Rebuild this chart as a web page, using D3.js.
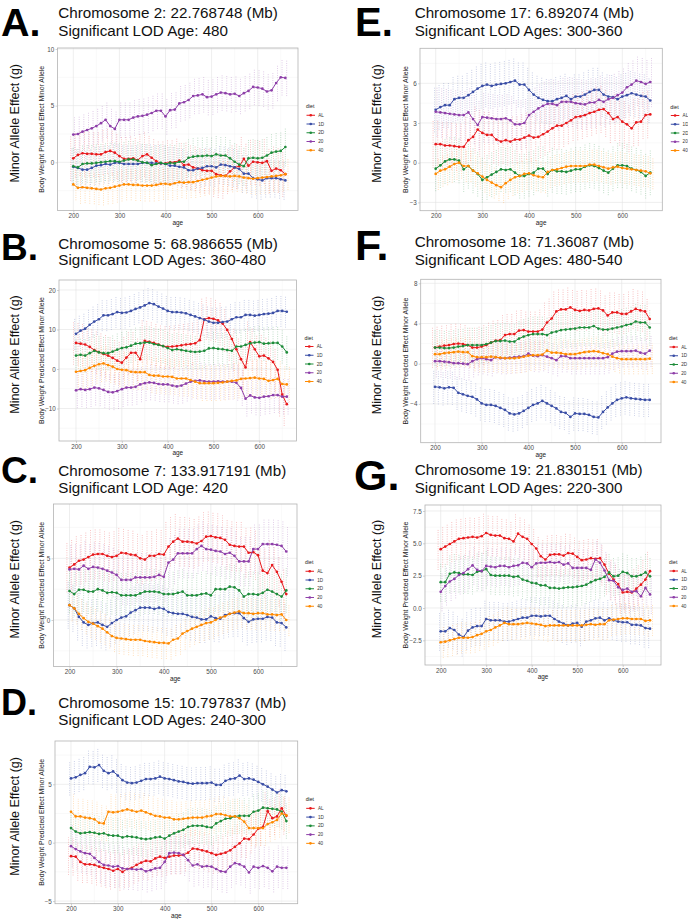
<!DOCTYPE html>
<html><head><meta charset="utf-8">
<script src="https://cdn.jsdelivr.net/npm/d3@7"></script>
<style>body{margin:0;background:#fff}svg{display:block}</style>
</head><body><svg id="c" width="688" height="919"></svg>
<script>
// ---------------- DATA ----------------
const ages = [200,210,220,230,240,250,260,270,280,290,300,310,320,330,340,350,360,370,380,390,400,410,420,430,440,450,460,470,480,490,500,510,520,530,540,550,560,570,580,590,600,610,620,630,640,650,660];
const diets = ["AL","1D","2D","20","40"];
const xTicks = [200,300,400,500,600];

const panelLetters = ["A.","B.","C.","D.","E.","F.","G."];
const titleLine1 = ["Chromosome 2: 22.768748 (Mb)","Chromosome 5: 68.986655 (Mb)","Chromosome 7: 133.917191 (Mb)","Chromosome 15: 10.797837 (Mb)","Chromosome 17: 6.892074 (Mb)","Chromosome 18: 71.36087 (Mb)","Chromosome 19: 21.830151 (Mb)"];
const titleLine2 = ["Significant LOD Age: 480","Significant LOD Ages: 360-480","Significant LOD Age: 420","Significant LOD Ages: 240-300","Significant LOD Ages: 300-360","Significant LOD Ages: 480-540","Significant LOD Ages: 220-300"];

const yTicksA = [0,5,10];
const yTicksB = [-10,0,10,20];
const yTicksC = [0,5];
const yTicksD = [-5,0,5];
const yTicksE = [-3,0,3,6];
const yTicksF = [-4,0,4,8];
const yTicksG = [-2.5,0,2.5,5,7.5];

// Panel A  (chr 2)
const A_AL = [0.35,0.65,0.8,0.75,0.75,0.7,0.7,0.9,1.0,0.85,0.55,0.3,0.3,0.35,0.2,0.55,0.7,0.4,0.1,-0.1,-0.1,0.0,0.0,0.15,-0.25,-0.2,-0.45,-0.55,-0.7,-0.75,-0.75,-1.05,-1.15,-1.2,-0.8,-0.45,-0.35,0.3,-0.3,0.05,0.0,-0.05,0.1,-0.75,-0.55,-0.7,-1.05];
const A_1D = [-0.4,-0.5,-0.65,-0.65,-0.5,-0.3,-0.25,-0.15,-0.2,-0.05,-0.05,-0.15,-0.15,-0.15,-0.15,-0.05,-0.05,-0.05,-0.1,-0.1,-0.15,-0.3,-0.3,-0.4,-0.45,-0.7,-0.7,-0.55,-0.5,-0.35,-0.35,-0.45,-0.2,-0.25,-0.35,-0.45,-0.6,-1.0,-1.0,-1.4,-1.5,-1.6,-1.4,-1.4,-1.4,-1.5,-1.6];
const A_2D = [-0.35,-0.45,-0.15,-0.1,-0.1,-0.05,0.0,0.05,0.1,0.1,0.05,0.15,0.25,0.25,0.15,0.0,-0.05,-0.25,-0.15,-0.05,-0.15,-0.05,-0.1,0.05,0.05,0.4,0.5,0.55,0.55,0.6,0.55,0.7,0.6,0.6,0.35,0.05,-0.2,-0.35,0.35,0.4,0.35,0.4,0.6,0.85,0.95,1.0,1.35];
const A_20 = [2.45,2.5,2.7,2.85,3.0,3.2,3.45,3.75,3.2,2.95,3.75,3.75,3.75,3.95,4.05,4.1,4.2,4.35,4.55,4.55,4.05,4.6,4.65,5.2,5.3,5.5,5.85,5.9,6.0,5.75,5.8,6.0,6.15,6.1,6.0,6.05,5.85,6.1,6.3,6.65,6.6,6.5,6.25,6.35,7.0,7.5,7.45];
const A_40 = [-1.95,-2.25,-2.2,-2.25,-2.3,-2.35,-2.4,-2.3,-2.25,-2.15,-2.05,-1.95,-1.95,-2.0,-2.0,-2.05,-2.05,-2.05,-2.0,-1.9,-1.9,-1.95,-1.85,-1.75,-1.8,-1.75,-1.75,-1.65,-1.55,-1.45,-1.35,-1.25,-1.2,-1.2,-1.25,-1.2,-1.25,-1.35,-1.4,-1.45,-1.4,-1.35,-1.3,-1.25,-1.2,-1.15,-1.05];
const A_ci = [2.0,1.7,1.7,1.6,1.4];

// Panel B  (chr 5)
const B_AL = [6.6,6.4,6.2,5.6,4.8,4.3,3.8,3.4,2.8,2.1,1.6,2.9,4.1,4.1,2.5,7.1,6.9,6.6,6.2,5.8,5.6,5.7,5.8,6.0,6.2,6.3,6.5,7.3,12.6,12.9,12.7,12.3,11.5,9.9,7.6,5.0,2.5,0.4,6.8,5.0,3.2,3.4,2.7,1.8,-0.2,-6.5,-8.9];
const B_1D = [8.9,9.7,10.2,11.2,12.0,12.6,13.6,13.6,13.9,14.4,14.2,14.3,14.7,15.2,15.6,16.1,16.7,16.4,15.8,15.3,14.7,14.4,14.4,14.3,14.1,13.7,13.3,12.9,12.5,12.0,11.7,11.7,11.9,12.0,12.6,13.1,13.1,13.7,13.7,13.5,13.7,13.9,14.0,14.2,14.7,14.7,14.5];
const B_2D = [3.4,3.6,3.4,4.0,4.6,4.2,4.0,4.0,4.4,4.9,5.3,5.5,5.9,6.4,6.5,6.7,6.7,6.3,6.1,5.8,5.3,4.8,5.0,4.8,4.6,4.4,4.3,4.4,4.6,5.2,5.3,5.1,5.0,4.8,4.6,5.7,5.7,6.1,6.5,6.7,6.8,6.4,6.5,6.6,6.6,5.7,4.2];
const B_20 = [-5.4,-5.1,-5.3,-5.1,-4.7,-4.9,-5.3,-5.8,-5.9,-5.6,-5.1,-4.7,-4.7,-4.5,-3.9,-3.6,-3.4,-3.5,-3.8,-3.9,-3.9,-4.2,-4.4,-4.2,-3.7,-3.2,-3.0,-2.9,-3.1,-3.2,-3.2,-3.1,-3.2,-3.2,-3.2,-3.5,-4.8,-7.5,-6.7,-7.2,-7.3,-7.0,-6.9,-6.6,-6.6,-7.0,-7.0];
const B_40 = [-0.7,-0.5,-0.3,0.3,0.8,1.2,1.4,1.0,0.6,0.0,-0.2,-0.3,-0.7,-0.8,-0.8,-0.8,-1.5,-1.7,-1.7,-1.9,-1.9,-2.0,-2.4,-2.4,-2.4,-2.8,-3.2,-3.6,-3.6,-3.6,-3.6,-3.5,-3.4,-3.2,-3.0,-2.9,-2.5,-2.4,-2.3,-2.2,-2.4,-2.5,-3.0,-2.8,-2.5,-3.8,-3.9];
const B_ci = [5.5,4.0,4.3,4.5,4.5];

// Panel C  (chr 7)
const C_AL = [4.24,4.5,4.8,4.9,5.1,5.3,5.35,5.35,5.2,5.1,5.2,5.45,5.4,5.3,5.25,5.0,4.9,5.2,5.2,5.35,5.3,5.95,6.35,6.6,6.35,6.35,6.3,6.2,6.4,6.75,6.8,6.7,6.65,6.5,6.1,6.0,5.95,5.95,5.45,5.5,5.25,4.0,3.8,4.45,3.9,3.1,2.1];
const C_1D = [1.2,0.95,0.25,-0.2,-0.4,-0.25,-0.2,-0.4,-0.55,-0.25,0.0,0.2,0.3,0.6,0.8,1.0,1.0,1.0,0.9,1.0,0.9,0.65,0.55,0.5,0.5,0.4,0.25,0.2,0.05,0.05,0.3,0.15,0.1,0.4,0.5,0.55,0.55,0.15,-0.15,0.05,0.1,0.1,0.25,0.2,-0.2,-0.25,-0.6];
const C_2D = [2.35,2.1,2.45,2.45,2.3,2.3,2.5,2.4,2.2,2.25,2.2,2.0,2.0,2.0,2.0,2.15,2.3,2.3,2.3,2.25,2.1,2.1,2.1,2.2,2.3,2.0,2.0,2.0,2.1,2.15,2.0,2.5,2.5,2.5,2.7,2.65,2.4,1.9,2.1,2.1,2.05,2.2,2.45,2.3,2.1,1.9,2.4];
const C_20 = [4.1,4.15,4.1,4.4,4.15,4.3,4.25,4.15,4.0,3.85,3.65,3.25,3.25,3.25,3.45,3.45,3.45,3.45,3.5,3.65,3.5,4.65,4.9,5.4,5.4,5.4,5.4,5.75,6.0,5.75,5.7,5.6,5.55,5.35,5.45,5.2,4.75,4.75,4.75,5.75,5.75,6.15,6.15,6.15,6.1,6.0,5.55];
const C_40 = [1.2,0.95,0.5,0.15,-0.15,-0.3,-0.5,-0.7,-1.0,-1.3,-1.45,-1.5,-1.55,-1.6,-1.6,-1.6,-1.7,-1.75,-1.8,-1.85,-1.85,-1.9,-1.6,-1.5,-1.1,-0.9,-0.7,-0.55,-0.4,-0.25,-0.2,0.0,0.2,0.3,0.5,0.6,0.7,0.55,0.55,0.5,0.55,0.55,0.45,0.45,0.4,0.45,0.0];
const C_ci = [2.0,1.9,1.8,2.0,1.3];

// Panel D  (chr 15)
const D_AL = [-1.15,-1.2,-1.65,-1.85,-1.85,-1.9,-2.05,-2.15,-2.25,-2.4,-2.25,-2.5,-2.25,-2.15,-1.9,-1.7,-1.55,-1.6,-1.35,-1.2,-1.3,-1.2,-1.1,-1.1,-1.05,-0.85,-0.5,-0.55,-0.65,-0.75,-0.9,-1.05,-0.95,-0.85,-0.65,-0.35,-0.05,0.35,0.3,0.7,1.2,1.35,2.7,2.1,2.25,2.95,2.3];
const D_1D = [5.5,5.6,5.8,5.95,6.5,6.45,6.65,6.15,5.95,6.1,5.75,5.35,5.15,5.1,5.15,5.3,5.45,5.45,5.5,5.65,5.5,5.45,5.35,5.25,5.2,5.1,5.05,5.1,5.1,5.1,5.15,4.95,4.95,5.3,5.45,5.5,5.75,5.45,5.5,5.4,5.2,5.0,4.8,4.55,4.3,4.5,4.4];
const D_2D = [1.25,0.95,0.8,0.85,0.9,0.85,0.75,0.8,0.65,0.6,0.6,0.45,0.55,0.5,0.45,0.35,0.3,0.35,0.45,0.5,0.35,0.6,0.8,0.95,1.1,1.35,1.45,1.45,1.45,1.35,1.3,1.65,1.85,2.05,2.1,2.25,2.3,2.3,2.3,2.65,2.75,3.0,2.95,2.9,2.85,2.65,1.85];
const D_20 = [-0.3,-0.55,-0.75,-0.9,-0.95,-1.3,-1.65,-1.9,-1.95,-2.05,-2.0,-2.2,-2.25,-2.25,-2.3,-2.25,-2.45,-2.35,-2.2,-2.15,-1.65,-0.9,-0.85,-0.9,-1.05,-1.5,-1.95,-1.85,-2.05,-2.0,-2.05,-2.25,-2.45,-2.5,-2.05,-1.75,-1.85,-2.05,-2.55,-2.05,-2.15,-2.0,-2.15,-2.45,-2.05,-2.15,-2.15];
const D_40 = [2.65,2.25,2.25,2.15,2.1,2.0,1.7,1.65,2.65,2.6,2.65,2.75,2.85,2.75,2.65,2.75,2.6,2.45,2.3,2.25,2.15,2.15,2.0,2.0,2.05,2.1,2.15,2.15,2.15,2.25,2.3,2.45,2.45,2.35,2.25,2.25,2.1,1.8,1.25,1.25,1.25,1.25,1.6,1.75,1.95,2.5,2.35];
const D_ci = [1.6,1.45,1.5,1.8,1.5];

// Panel E  (chr 17)
const E_AL = [1.4,1.4,1.3,1.3,1.25,1.2,1.2,1.7,1.95,2.5,2.25,2.1,2.1,1.75,1.6,1.7,1.6,1.75,1.75,1.9,2.05,1.9,1.95,2.15,2.35,2.6,2.8,2.8,3.0,3.2,3.45,3.5,3.6,3.75,3.85,4.0,4.05,3.75,3.3,3.45,3.1,2.9,2.6,3.05,3.1,3.6,3.65];
const E_1D = [4.0,4.2,4.35,4.35,4.8,4.9,4.9,5.1,5.35,5.6,5.8,5.9,5.8,5.9,5.95,6.0,6.1,6.2,5.9,5.9,5.5,5.15,4.9,4.75,4.65,4.65,4.8,4.9,5.05,4.8,5.0,5.0,5.15,5.35,5.5,5.5,5.15,5.0,4.95,4.8,5.0,5.1,5.25,5.15,5.05,5.0,4.7];
const E_2D = [-0.45,-0.2,0.1,0.25,0.25,0.15,-0.5,-0.25,-0.6,-0.85,-1.3,-1.1,-0.9,-0.7,-0.5,-0.55,-0.5,-0.75,-1.0,-1.0,-0.85,-0.75,-0.45,-0.45,-0.85,-0.55,-0.65,-0.65,-0.7,-0.6,-0.5,-0.5,-0.3,-0.2,-0.25,-0.4,-0.6,-0.75,-0.45,-0.2,-0.2,-0.25,-0.45,-0.55,-0.7,-1.0,-0.75];
const E_20 = [3.85,3.8,3.75,3.7,3.65,3.6,3.6,3.8,3.3,2.85,3.45,3.4,3.35,3.3,3.3,3.35,3.2,2.9,2.9,3.0,3.6,3.85,4.1,4.3,4.45,4.45,4.35,4.6,4.6,4.6,4.5,4.45,4.4,4.55,4.55,4.75,4.6,4.8,4.9,5.1,5.3,5.7,5.9,6.2,6.1,5.95,6.1];
const E_40 = [-0.85,-0.6,-0.5,-0.3,-0.1,0.0,-0.25,-0.25,-0.6,-0.8,-1.05,-1.3,-1.5,-1.7,-1.85,-1.55,-1.3,-1.1,-1.0,-0.85,-0.8,-0.95,-1.05,-1.1,-0.7,-0.55,-0.5,-0.4,-0.3,-0.25,-0.25,-0.25,-0.25,-0.15,-0.15,-0.25,-0.35,-0.45,-0.35,-0.3,-0.4,-0.45,-0.5,-0.55,-0.6,-0.65,-0.8];
const E_ci = [1.8,1.7,1.7,1.9,1.2];

// Panel F  (chr 18)
const F_AL = [1.6,1.7,1.8,1.85,1.95,2.0,1.95,1.85,1.6,1.6,1.7,1.85,2.1,2.3,2.35,2.85,2.95,2.95,3.3,3.35,3.2,3.2,3.2,3.4,4.1,4.5,5.2,5.4,5.4,5.6,5.35,5.25,5.35,5.3,5.45,5.5,5.3,4.8,5.1,5.1,4.95,4.95,5.2,5.45,5.3,5.2,4.45];
const F_1D = [-2.3,-2.35,-2.45,-2.35,-2.4,-2.9,-3.05,-3.2,-3.3,-3.55,-3.95,-4.1,-4.1,-4.2,-4.4,-4.6,-4.95,-5.05,-4.95,-4.7,-4.4,-4.1,-3.95,-3.7,-3.95,-4.2,-4.45,-4.8,-4.9,-5.3,-4.95,-5.0,-5.0,-5.1,-5.3,-5.35,-4.8,-4.35,-3.95,-3.6,-3.45,-3.35,-3.45,-3.5,-3.55,-3.6,-3.6];
const F_2D = [1.6,1.6,1.55,1.55,1.6,1.7,1.75,1.85,1.85,1.85,1.85,1.95,2.1,2.25,2.25,2.3,2.2,2.2,2.5,2.7,2.85,2.95,2.95,2.95,2.85,3.1,3.2,3.35,3.4,3.45,3.5,3.6,3.6,3.6,3.75,3.5,3.4,3.4,3.5,3.6,3.7,3.85,3.95,4.2,4.1,4.1,3.6];
const F_20 = [0.25,0.25,0.2,0.15,0.05,0.05,0.0,-0.05,0.25,0.45,0.55,0.45,0.35,0.65,0.55,0.55,0.6,0.65,0.7,0.75,1.0,0.8,0.75,0.85,0.7,0.55,0.35,0.75,0.75,0.55,0.55,0.55,0.55,0.55,0.55,0.55,0.55,0.65,1.0,1.2,1.25,1.25,1.25,1.3,1.1,1.0,1.3];
const F_40 = [0.95,0.95,1.05,1.1,1.15,1.2,1.15,1.15,0.75,0.65,0.65,0.65,0.7,0.65,0.6,0.55,0.55,0.55,0.6,0.7,0.8,0.85,0.85,0.9,1.3,1.1,1.1,1.05,0.95,0.95,0.95,1.05,1.15,1.2,1.25,1.2,1.05,0.95,0.7,0.55,0.45,0.45,0.45,0.45,0.45,0.45,0.5];
const F_ci = [2.0,1.7,1.8,1.6,1.5];

// Panel G  (chr 19)
const G_AL = [4.55,4.75,4.95,5.15,5.35,5.4,5.45,5.5,5.45,5.55,5.8,5.65,5.6,5.6,5.4,5.35,5.15,5.75,5.5,5.35,4.95,4.6,4.0,3.75,4.1,4.15,4.15,4.05,4.25,4.2,3.95,3.7,3.75,3.85,3.8,3.85,3.35,2.65,2.2,1.85,1.2,1.25,1.2,1.5,1.8,2.2,2.85];
const G_1D = [-1.8,-1.8,-1.55,-1.7,-2.05,-2.25,-1.75,-1.5,-1.4,-1.4,-0.85,-0.95,-0.95,-0.95,-1.05,-1.05,-0.95,-0.85,-0.75,-0.75,-0.6,-0.6,-0.65,-0.6,-0.6,-0.85,-1.05,-1.2,-1.35,-1.2,-1.15,-1.45,-1.05,-0.95,-0.8,-0.75,-0.95,-0.8,-0.95,-1.05,-1.1,-1.1,-1.3,-1.3,-1.35,-1.55,-1.6];
const G_2D = [2.0,2.0,2.65,2.75,2.7,2.6,2.6,2.55,2.8,2.85,3.0,2.55,2.5,2.5,2.5,2.5,2.4,2.45,2.2,2.1,1.95,1.9,1.75,1.75,1.55,1.55,1.5,1.55,1.6,1.6,1.65,1.7,1.8,2.0,2.15,2.25,2.4,2.75,2.45,2.5,2.8,2.7,2.45,2.45,2.55,2.75,2.45];
const G_20 = [1.25,1.7,2.05,2.25,2.55,2.7,3.0,3.3,2.95,2.85,3.25,3.2,3.15,3.25,3.25,3.15,3.25,3.3,3.5,3.45,3.15,3.45,3.5,3.5,3.55,3.5,3.55,3.35,3.45,3.1,3.1,3.1,3.1,2.95,3.75,3.5,2.9,2.15,2.1,1.6,1.4,1.5,1.25,1.3,0.9,1.55,1.05];
const G_40 = [-2.65,-2.6,-2.5,-2.4,-2.3,-2.3,-2.3,-2.25,-2.1,-2.0,-1.8,-1.7,-1.5,-1.35,-1.15,-1.25,-1.25,-1.25,-1.2,-1.15,-1.2,-1.25,-1.3,-1.4,-1.35,-1.35,-1.35,-1.35,-1.35,-1.35,-1.35,-1.35,-1.3,-1.25,-1.3,-1.25,-1.25,-0.95,-0.9,-0.85,-0.8,-0.8,-0.85,-0.85,-0.85,-1.0,-0.95];
const G_ci = [1.6,1.5,1.5,1.5,1.2];

// ---------------- STYLE / LAYOUT ----------------
const dietColors = ["#e8191c","#3a4ea6","#1e8c3a","#8e3fa9","#ff8a00"];
const FONT = "'Liberation Sans', Arial, Helvetica, sans-serif";

const panels = [
  {series:[A_AL,A_1D,A_2D,A_20,A_40], ci:A_ci, ticks:yTicksA, fmt:d3.format("d")},
  {series:[B_AL,B_1D,B_2D,B_20,B_40], ci:B_ci, ticks:yTicksB, fmt:d3.format("d")},
  {series:[C_AL,C_1D,C_2D,C_20,C_40], ci:C_ci, ticks:yTicksC, fmt:d3.format("d")},
  {series:[D_AL,D_1D,D_2D,D_20,D_40], ci:D_ci, ticks:yTicksD, fmt:d3.format("d")},
  {series:[E_AL,E_1D,E_2D,E_20,E_40], ci:E_ci, ticks:yTicksE, fmt:d3.format("d")},
  {series:[F_AL,F_1D,F_2D,F_20,F_40], ci:F_ci, ticks:yTicksF, fmt:d3.format("d")},
  {series:[G_AL,G_1D,G_2D,G_20,G_40], ci:G_ci, ticks:yTicksG, fmt:d3.format(".1f")}
];

// plot rectangles + pixel calibration of two x and two y reference values
const layout = [
  {l:57.5,t:48,r:298,b:210.5, x200:73.3,x600:257.7, yv:[0,10],yp:[162.3,49],   col:0, lx:1, ly:35.8, ls:39.5, t1:18.3, t2:36.3},
  {l:59,t:280,r:296.5,b:441,  x200:76,x600:259.3,   yv:[0,20],yp:[369,290],    col:0, lx:1, ly:260,  ls:37, t1:249, t2:265},
  {l:53.5,t:504,r:297,b:666.5,x200:69.5,x600:258,   yv:[0,5],yp:[620,558.3],   col:0, lx:1, ly:483,  ls:37, t1:476, t2:493.3},
  {l:55,t:741,r:297.7,b:903.7,x200:71,x600:258.3,   yv:[0,5],yp:[842.7,784.3], col:0, lx:1, ly:715,  ls:36, t1:708.3, t2:725},
  {l:420,t:48.3,r:662.3,b:210.7,x200:435.7,x600:622.3, yv:[0,6],yp:[162.7,83.3], col:1, lx:355, ly:36.3, ls:40, t1:18.3, t2:36},
  {l:420.7,t:279.3,r:661,b:442.7,x200:435,x600:621.7,  yv:[0,8],yp:[363.7,283.3], col:1, lx:355, ly:260, ls:43, t1:246.7, t2:265},
  {l:425,t:505,r:661,b:665,   x200:440.7,x600:622.7,  yv:[0,7.5],yp:[608,511],  col:1, lx:354, ly:489.5, ls:43, t1:475, t2:493.3}
];
const colX = [{title:58.3, minor:15.3, inner:41.5}, {title:414.7, minor:376.5, inner:405.3}];

const svg = d3.select("#c");
svg.append("rect").attr("width",688).attr("height",919).attr("fill","#fff");

panels.forEach((p, pi) => {
  const L = layout[pi];
  const C = colX[L.col];
  const xc = d3.scaleLinear().domain([200,600]).range([L.x200, L.x600]);
  const x = d3.scaleLinear().domain([xc.invert(L.l), xc.invert(L.r)]).range([L.l, L.r]);
  const yc = d3.scaleLinear().domain(L.yv).range(L.yp);
  const y = d3.scaleLinear().domain([yc.invert(L.b), yc.invert(L.t)]).range([L.b, L.t]);
  const g = svg.append("g");

  // letter + titles
  g.append("text").attr("x", L.lx).attr("y", L.ly).attr("font-family", FONT).attr("font-weight", 900)
    .attr("font-size", L.ls).attr("fill", "#000").text(panelLetters[pi]);
  g.append("text").attr("x", C.title).attr("y", L.t1).attr("font-family", FONT).attr("font-size", 15.2)
    .attr("fill", "#111").text(titleLine1[pi]);
  g.append("text").attr("x", C.title).attr("y", L.t2).attr("font-family", FONT).attr("font-size", 15.2)
    .attr("fill", "#111").text(titleLine2[pi]);

  // outer y label
  const cy = (L.t + L.b) / 2;
  g.append("text").attr("transform", `translate(${C.minor},${cy - 6}) rotate(-90)`)
    .attr("text-anchor","middle").attr("dominant-baseline","central")
    .attr("font-family", FONT).attr("font-size", 12.5).attr("fill","#111").text("Minor Allele Effect (g)");

  // grid
  const xd = x.domain(), yd = y.domain();
  const xMinor = xTicks.map(v => v - 50).concat([xTicks[xTicks.length-1] + 50]).filter(v => v > xd[0] && v < xd[1]);
  const step = p.ticks[1] - p.ticks[0];
  const yMinor = p.ticks.map(v => v - step/2).concat([p.ticks[p.ticks.length-1] + step/2]).filter(v => v > yd[0] && v < yd[1]);
  const grid = g.append("g");
  grid.selectAll(".xm").data(xMinor).join("line").attr("x1", d=>x(d)).attr("x2", d=>x(d)).attr("y1", L.t).attr("y2", L.b)
    .attr("stroke","#f0f0f0").attr("stroke-width",0.4);
  grid.selectAll(".ym").data(yMinor).join("line").attr("y1", d=>y(d)).attr("y2", d=>y(d)).attr("x1", L.l).attr("x2", L.r)
    .attr("stroke","#f0f0f0").attr("stroke-width",0.4);
  grid.selectAll(".xM").data(xTicks).join("line").attr("x1", d=>x(d)).attr("x2", d=>x(d)).attr("y1", L.t).attr("y2", L.b)
    .attr("stroke","#e3e3e3").attr("stroke-width",0.6);
  grid.selectAll(".yM").data(p.ticks).join("line").attr("y1", d=>y(d)).attr("y2", d=>y(d)).attr("x1", L.l).attr("x2", L.r)
    .attr("stroke","#e3e3e3").attr("stroke-width",0.6);

  // error bars (dotted, dodged)
  const eb = g.append("g");
  p.series.forEach((s, si) => {
    eb.selectAll(null).data(s).join("line")
      .attr("x1", (d,i) => x(ages[i]) + (si - 2) * 1.3)
      .attr("x2", (d,i) => x(ages[i]) + (si - 2) * 1.3)
      .attr("y1", d => y(d - p.ci[si])).attr("y2", d => y(d + p.ci[si]))
      .attr("stroke", dietColors[si]).attr("stroke-width", 0.8)
      .attr("stroke-dasharray", "0.8,1.5").attr("opacity", 0.4);
  });

  // lines + points
  const line = d3.line().x((d,i) => x(ages[i])).y(d => y(d));
  p.series.forEach((s, si) => {
    g.append("path").datum(s).attr("d", line).attr("fill","none")
      .attr("stroke", dietColors[si]).attr("stroke-width", 1);
    g.selectAll(null).data(s).join("circle")
      .attr("cx", (d,i) => x(ages[i])).attr("cy", d => y(d)).attr("r", 1.35)
      .attr("fill", dietColors[si]);
  });

  // border
  g.append("rect").attr("x", L.l).attr("y", L.t).attr("width", L.r - L.l).attr("height", L.b - L.t)
    .attr("fill","none").attr("stroke","#b3b3b3").attr("stroke-width",0.8);

  // axes
  const ax = g.append("g").attr("transform", `translate(0,${L.b})`)
    .call(d3.axisBottom(x).tickValues(xTicks).tickSize(2).tickPadding(1.2));
  const ay = g.append("g").attr("transform", `translate(${L.l},0)`)
    .call(d3.axisLeft(y).tickValues(p.ticks).tickFormat(p.fmt).tickSize(2).tickPadding(1.2));
  [ax, ay].forEach(a => {
    a.select(".domain").remove();
    a.selectAll(".tick line").attr("stroke","#b3b3b3").attr("stroke-width",0.6);
    a.selectAll(".tick text").attr("font-family", FONT).attr("font-size", 6.3).attr("fill","#4d4d4d");
  });

  // axis titles
  g.append("text").attr("x", (L.l + L.r)/2).attr("y", L.b + 11.5).attr("text-anchor","middle")
    .attr("dominant-baseline","central").attr("font-family", FONT).attr("font-size", 6.4)
    .attr("fill","#222").text("age");
  g.append("text").attr("transform", `translate(${C.inner},${cy}) rotate(-90)`)
    .attr("text-anchor","middle").attr("dominant-baseline","central")
    .attr("font-family", FONT).attr("font-size", 6.9).attr("fill","#222")
    .text("Body Weight Predicted Effect Minor Allele");

  // legend
  const lg = g.append("g").attr("transform", `translate(${L.r + 8},${cy})`);
  lg.append("text").attr("x", 0).attr("y", -23).attr("dominant-baseline","central")
    .attr("font-family", FONT).attr("font-size", 5.2).attr("fill","#222").text("diet");
  diets.forEach((dname, di) => {
    const ky = -14 + di * 8.75;
    lg.append("line").attr("x1", 0.5).attr("x2", 9).attr("y1", ky).attr("y2", ky)
      .attr("stroke", dietColors[di]).attr("stroke-width", 1);
    lg.append("circle").attr("cx", 4.75).attr("cy", ky).attr("r", 1.35).attr("fill", dietColors[di]);
    lg.append("text").attr("x", 12.3).attr("y", ky).attr("dominant-baseline","central")
      .attr("font-family", FONT).attr("font-size", 4.6).attr("fill","#333").text(dname);
  });
});
</script>
</body></html>
